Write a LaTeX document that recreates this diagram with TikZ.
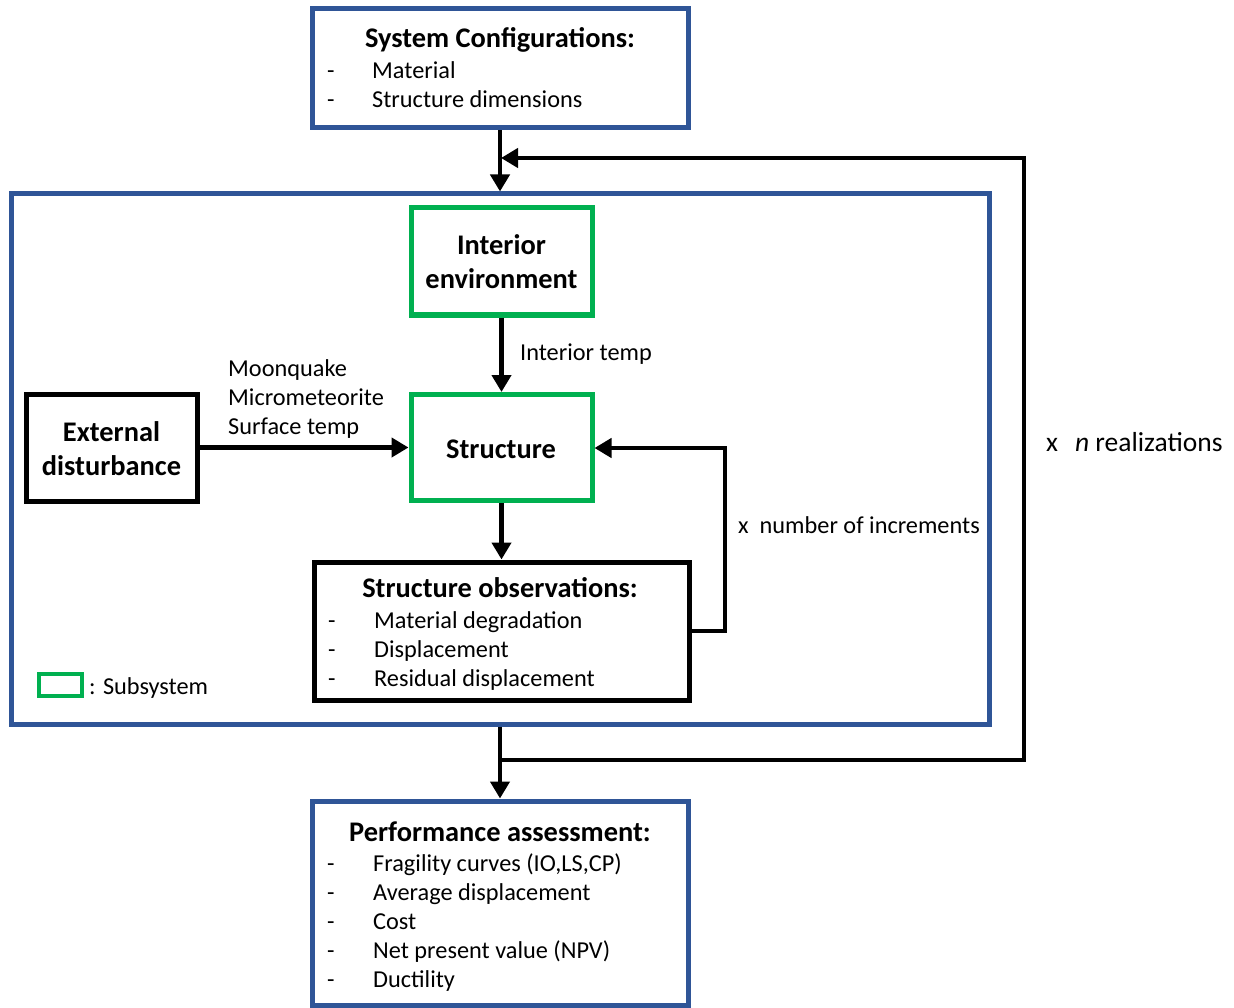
\documentclass[tikz,border=0pt]{standalone}
\usepackage{fontspec}
\setmainfont{Carlito}
\usetikzlibrary{arrows.meta}
\definecolor{bblue}{HTML}{2F5597}
\definecolor{ggreen}{HTML}{00B050}
\begin{document}
\begin{tikzpicture}[x=1pt,y=-1pt,
  box/.style={draw, line width=5pt, inner sep=0pt, fill=white},
  bluebox/.style={box, draw=bblue},
  greenbox/.style={box, draw=ggreen},
  blackbox/.style={box, draw=black},
  arr/.style={line width=4.5pt, -{Triangle[length=17pt,width=19pt]}},
  btxt/.style={font=\fontsize{28.4}{34}\selectfont\bfseries, align=center, inner sep=0pt},
  rtxt/.style={font=\fontsize{24.3}{29}\selectfont, inner sep=0pt, anchor=base west},
]
\useasboundingbox (0,0) rectangle (1234,1008);

% boxes
\node[bluebox, minimum width=376pt, minimum height=119pt] (cfg) at (500,68.5) {};
\node[bluebox, minimum width=978pt, minimum height=530pt] (main) at (500,459) {};
\node[greenbox, minimum width=181pt, minimum height=107pt] (interior) at (501.5,261.5) {};
\node[greenbox, minimum width=181pt, minimum height=106pt] (struct) at (501.5,447.5) {};
\node[blackbox, minimum width=171pt, minimum height=107pt] (ext) at (111.5,447.5) {};
\node[blackbox, minimum width=375pt, minimum height=138pt] (obs) at (501.5,631) {};
\node[bluebox, minimum width=376pt, minimum height=204pt] (perf) at (500,903) {};

% config text
\node[btxt] (cfgT) at (500,40) {System Configurations:};
\node[rtxt] (cfgd1) at (327,79) {-};
\node[rtxt] (cfg1) at (372,79) {Material};
\node[rtxt] (cfgd2) at (327,108) {-};
\node[rtxt] (cfg2) at (372,108) {Structure dimensions};

% inner texts
\node[btxt] (intT) at (501.5,262) {Interior\\environment};
\node[btxt] (strT) at (501,449) {Structure};
\node[btxt] (extT) at (111.5,449) {External\\disturbance};

% observations
\node[btxt] (obsT) at (500,588) {Structure observations:};
\node[rtxt] (od1) at (328,628) {-};
\node[rtxt] (o1) at (374,628) {Material degradation};
\node[rtxt] (od2) at (328,657) {-};
\node[rtxt] (o2) at (374,657) {Displacement};
\node[rtxt] (od3) at (328,686) {-};
\node[rtxt] (o3) at (374,686) {Residual displacement};

% performance
\node[btxt] (perfT) at (500,832) {Performance assessment:};
\node[rtxt] (pd1) at (327,871) {-};
\node[rtxt] (p1) at (373,871) {Fragility curves (IO,LS,CP)};
\node[rtxt] (pd2) at (327,900) {-};
\node[rtxt] (p2) at (373,900) {Average displacement};
\node[rtxt] (pd3) at (327,929) {-};
\node[rtxt] (p3) at (373,929) {Cost};
\node[rtxt] (pd4) at (327,958) {-};
\node[rtxt] (p4) at (373,958) {Net present value (NPV)};
\node[rtxt] (pd5) at (327,987) {-};
\node[rtxt] (p5) at (373,987) {Ductility};

% labels
\node[rtxt] (lbIT) at (520,360) {Interior temp};
\node[rtxt] (lbM1) at (228,376) {Moonquake};
\node[rtxt] (lbM2) at (228,405) {Micrometeorite};
\node[rtxt] (lbM3) at (228,434) {Surface temp};
\node[rtxt] (lbInc) at (738,533) {x\ \ number of increments};
\node[rtxt, font=\fontsize{27.5}{32}\selectfont] (lbReal) at (1046,451) {x\ \ \,\textit{n} realizations};

% legend
\node[draw=ggreen, line width=4.5pt, minimum width=43pt, minimum height=22pt, inner sep=0pt] (leg) at (60.5,685) {};
\node[rtxt] (legT) at (89,694) {: Subsystem};

% connectors
\draw[arr] (cfg.south) -- (main.north);
\draw[arr] (main.south) -- (perf.north);
\coordinate (fbB) at (500,760);
\coordinate (fbR1) at (1024,760);
\coordinate (fbR2) at (1024,158);
\coordinate (fbT) at (501,158);
\draw[arr, line join=miter] (fbB) -- (fbR1) -- (fbR2) -- (fbT);
\draw[arr] (interior.south) -- (struct.north);
\draw[arr] (ext.east) -- (struct.west);
\draw[arr] (struct.south) -- (obs.north);
\coordinate (lpA) at (725,631);
\coordinate (lpB) at (725,448);
\draw[arr, line join=miter] (obs.east |- lpA) -- (lpA) -- (lpB) -- (struct.east |- lpB);
\end{tikzpicture}
\end{document}
